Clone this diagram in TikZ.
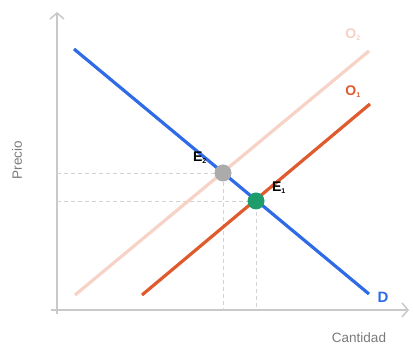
\documentclass[tikz,border=0pt]{standalone}
\usepackage{fontspec}
\setmainfont{Liberation Sans}
\usetikzlibrary{arrows.meta}
\definecolor{axisgray}{HTML}{C9C9C9}
\definecolor{txtgray}{HTML}{7A7A7A}
\definecolor{dblue}{HTML}{2F6BE6}
\definecolor{oone}{HTML}{DF5A2C}
\definecolor{otwo}{HTML}{F7D2C6}
\definecolor{egreen}{HTML}{1E9C6C}
\definecolor{egray}{HTML}{ABABAB}
\definecolor{dashgray}{HTML}{D2D2D2}
\tikzset{
  axisline/.style={draw=axisgray, line width=2.6pt, -{Straight Barb[length=6pt,width=14pt,line width=1.5pt]}},
  curve/.style={line width=3.2pt},
  guide/.style={draw=dashgray, line width=0.8pt, dash pattern=on 4pt off 3pt},
  eqpt/.style={circle, inner sep=0pt, minimum size=17pt},
  lbl/.style={font=\bfseries\fontsize{14}{14}\selectfont, inner sep=0pt},
  axlbl/.style={text=txtgray, font=\fontsize{13.5}{13.5}\selectfont, inner sep=0pt}
}
\begin{document}
\begin{tikzpicture}[x=1pt,y=-1pt]
\useasboundingbox (0,0) rectangle (413,347);
% axes
\coordinate (orig) at (57,314);
\coordinate (ytop) at (57,12);
\coordinate (xleft) at (51,310);
\coordinate (xright) at (409,310);
\draw[axisline] (orig) -- (ytop);
\draw[axisline] (xleft) -- (xright);
% equilibrium points
\coordinate (e2) at (223,173);
\coordinate (e1) at (256,201);
\coordinate (e2y) at (57,173);
\coordinate (e2x) at (223,310);
\coordinate (e1y) at (57,201);
\coordinate (e1x) at (256,310);
\draw[guide] (e2y) -- (e2) -- (e2x);
\draw[guide] (e1y) -- (e1) -- (e1x);
% curves
\coordinate (o2a) at (75,295);
\coordinate (o2b) at (369,51);
\coordinate (o1a) at (142,295);
\coordinate (o1b) at (370,104);
\coordinate (da) at (74,49);
\coordinate (db) at (369,294);
\draw[curve, draw=otwo] (o2a) -- (o2b);
\draw[curve, draw=oone] (o1a) -- (o1b);
\draw[curve, draw=dblue] (da) -- (db);
\node[eqpt, fill=egray] (E2) at (e2) {};
\node[eqpt, fill=egreen] (E1) at (e1) {};
% labels
\node[lbl] (lE2) at (200,158) {E\textsubscript{\fontsize{7}{7}\selectfont 2}};
\node[lbl] (lE1) at (279,188) {E\textsubscript{\fontsize{7}{7}\selectfont 1}};
\node[lbl, text=otwo] (lO2) at (353,35) {O\textsubscript{\fontsize{7}{7}\selectfont 2}};
\node[lbl, text=oone] (lO1) at (353,92) {O\textsubscript{\fontsize{7}{7}\selectfont 1}};
\node[lbl, text=dblue, font=\bfseries\fontsize{15}{15}\selectfont] (lD) at (383,297) {D};
\node[axlbl, rotate=90] (py) at (17,160) {Precio};
\node[axlbl] (qx) at (359,338) {Cantidad};
\end{tikzpicture}
\end{document}
